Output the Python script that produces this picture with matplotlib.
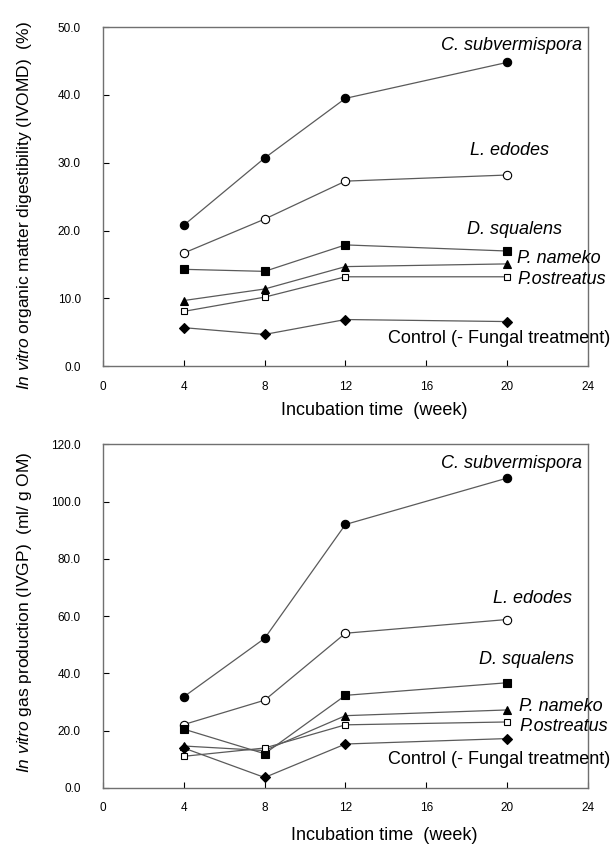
import matplotlib
matplotlib.use("Agg")
import matplotlib.pyplot as plot

plot.rcParams["font.family"] = ["Liberation Sans", "DejaVu Sans"]
plot.rcParams["mathtext.fontset"] = "custom"
plot.rcParams["mathtext.it"] = "Liberation Sans:italic"
plot.rcParams["mathtext.rm"] = "Liberation Sans"

weeks = [4, 8, 12, 20]
fungi = [
    "C. subvermispora",
    "L. edodes",
    "D. squalens",
    "P. nameko",
    "P.ostreatus",
    "Control (- Fungal treatment)",
]

# IVOMD (%)
ivomd_c_sub = [20.8, 30.7, 39.5, 44.8]
ivomd_l_edo = [16.7, 21.7, 27.3, 28.2]
ivomd_d_squ = [14.3, 14.0, 17.9, 17.0]
ivomd_p_nam = [9.7, 11.4, 14.7, 15.1]
ivomd_p_ost = [8.1, 10.2, 13.2, 13.2]
ivomd_control = [5.7, 4.7, 6.9, 6.6]

# IVGP (ml/ g OM)
ivgp_c_sub = [31.8, 52.2, 92.0, 108.2]
ivgp_l_edo = [22.1, 30.6, 54.0, 58.8]
ivgp_d_squ = [20.5, 11.9, 32.3, 36.7]
ivgp_p_nam = [14.6, 13.0, 25.2, 27.2]
ivgp_p_ost = [11.0, 13.9, 22.0, 23.0]
ivgp_control = [13.9, 3.6, 15.3, 17.2]

# marker, face colour, size
styles = [
    ("o", "black", 6.0),
    ("o", "white", 6.0),
    ("s", "black", 5.5),
    ("^", "black", 5.5),
    ("s", "white", 4.5),
    ("D", "black", 4.8),
]


def draw_panel(axes, series, ymax, ystep, ylabel, label_pos, ylabel_y, xlabel_x, xlabel_y):
    for values, (marker, face, size) in zip(series, styles):
        axes.plot(
            weeks,
            values,
            "-",
            color="#5a5a5a",
            linewidth=0.9,
            marker=marker,
            markerfacecolor=face,
            markeredgecolor="black",
            markeredgewidth=0.8,
            markersize=size,
        )

    for name, (x, y, ha) in zip(fungi, label_pos):
        axes.text(
            x, y, name,
            ha=ha, va="center",
            fontsize=13,
            style="normal" if name.startswith("Control") else "italic",
            clip_on=False,
        )

    axes.set_xlim(0, 24)
    axes.set_xticks(range(0, 25, 4))
    axes.set_ylim(0, ymax)
    yticks = [i * ystep for i in range(int(ymax / ystep) + 1)]
    axes.set_yticks(yticks)
    axes.set_yticklabels(["{:.1f}".format(t) for t in yticks])
    axes.tick_params(direction="in", length=4, width=0.8, labelsize=8.5, colors="black")
    axes.tick_params(axis="x", pad=10.5)
    axes.tick_params(axis="y", pad=16)
    for spine in axes.spines.values():
        spine.set_color("#707070")
        spine.set_linewidth(1.0)
    axes.set_xlabel("Incubation time  (week)", fontsize=13)
    axes.xaxis.set_label_coords(xlabel_x, xlabel_y)
    axes.set_ylabel(ylabel, fontsize=12.5)
    axes.yaxis.set_label_coords(-0.142, ylabel_y)


figure = plot.figure(figsize=(6.13, 8.48), dpi=100)

top = figure.add_axes([0.168, 0.568, 0.791, 0.400])
draw_panel(
    top,
    [ivomd_c_sub, ivomd_l_edo, ivomd_d_squ, ivomd_p_nam, ivomd_p_ost, ivomd_control],
    50, 10,
    r"$\mathit{In\ vitro}$ organic matter digestibility (IVOMD)  (%)",
    [(23.7, 47.3, "right"), (22.1, 31.8, "right"), (22.7, 20.1, "right"),
     (20.5, 15.9, "left"), (20.5, 12.8, "left"), (25.1, 4.1, "right")],
    0.475, 0.56, -0.106,
)

bottom = figure.add_axes([0.168, 0.071, 0.791, 0.405])
draw_panel(
    bottom,
    [ivgp_c_sub, ivgp_l_edo, ivgp_d_squ, ivgp_p_nam, ivgp_p_ost, ivgp_control],
    120, 20,
    r"$\mathit{In\ vitro}$ gas production (IVGP)  (ml/ g OM)",
    [(23.7, 113.4, "right"), (23.2, 66.3, "right"), (23.3, 44.8, "right"),
     (20.6, 28.5, "left"), (20.6, 21.3, "left"), (25.1, 9.9, "right")],
    0.512, 0.58, -0.113,
)

figure.savefig("out.png", dpi=100)
